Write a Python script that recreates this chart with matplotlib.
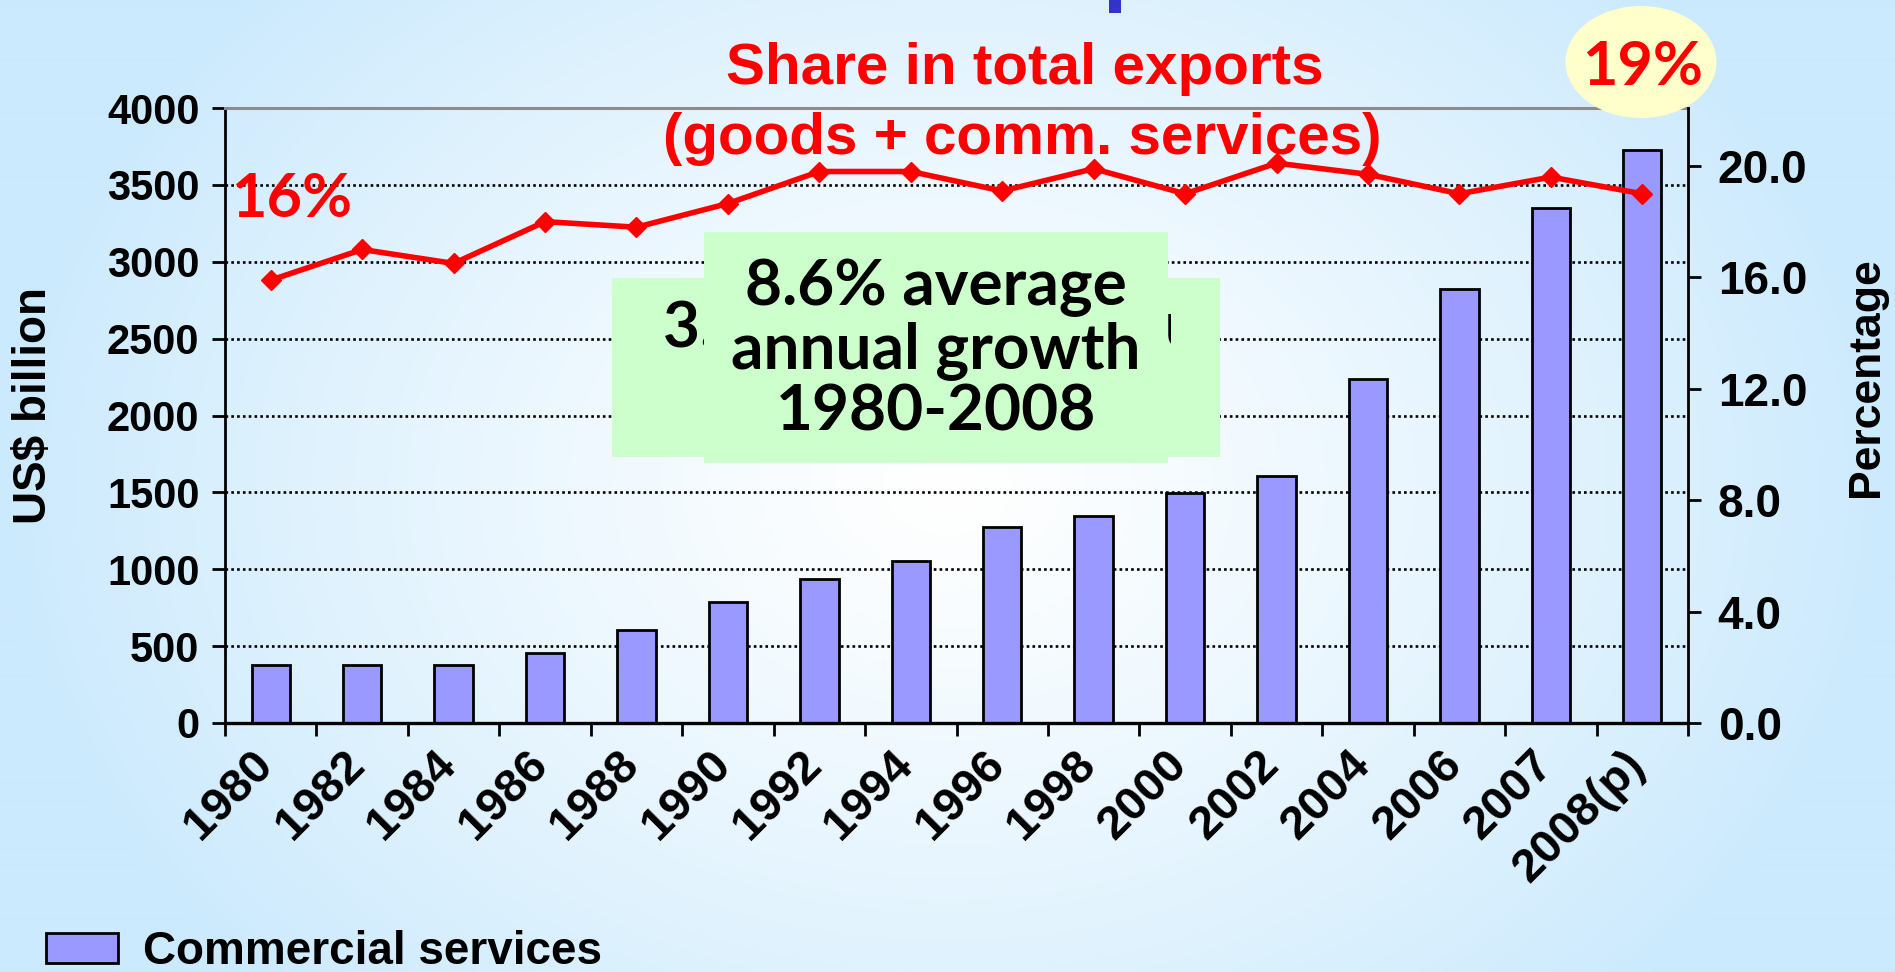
import numpy as np
import matplotlib
matplotlib.use("Agg")
import matplotlib.pyplot as plt
from matplotlib.patches import Rectangle, Ellipse
import matplotlib.transforms as mtransforms

# ---------------- data ----------------
years = ["1980", "1982", "1984", "1986", "1988", "1990", "1992", "1994",
         "1996", "1998", "2000", "2002", "2004", "2006", "2007", "2008(p)"]
services = [380, 380, 380, 455, 605, 785, 935, 1055,
            1275, 1345, 1495, 1605, 2235, 2820, 3350, 3725]
share = [15.9, 17.0, 16.5, 18.0, 17.8, 18.65, 19.8, 19.8,
         19.1, 19.9, 19.0, 20.1, 19.7, 19.0, 19.6, 19.0]
left_ticks = [0, 500, 1000, 1500, 2000, 2500, 3000, 3500, 4000]
right_ticks = [0, 4, 8, 12, 16, 20]

W, H = 1895, 972
plt.rcParams["font.family"] = ["Liberation Sans", "DejaVu Sans"]
plt.rcParams["font.weight"] = "bold"
plt.rcParams["axes.labelweight"] = "bold"

fig = plt.figure(figsize=(W / 100, H / 100), dpi=100)

def fx(px):
    return px / W

def fy(py):
    return 1 - py / H

# ---------------- background gradient ----------------
bg = fig.add_axes([0, 0, 1, 1], zorder=-10)
yy, xx = np.mgrid[0:H, 0:W]
dx = (xx - 947) / 947
dy = (yy - 486) / 486
t = np.clip(np.sqrt(dx ** 2 + 0.45 * dy ** 2), 0, 1) ** 1.2
blue = np.array([204, 234, 253]) / 255
img = 1 - t[..., None] * (1 - blue)
bg.imshow(img, aspect="auto", extent=[0, 1, 0, 1], origin="upper")
bg.axis("off")

# ---------------- main axes ----------------
L, R, T, B = 225, 1688, 108, 723
ax = fig.add_axes([fx(L), fy(B), (R - L) / W, (B - T) / H])
ax.set_facecolor("none")
x = np.arange(len(years))
ax.bar(x, services, width=0.42, color="#9999ff", edgecolor="black",
       linewidth=2.0, label="Commercial services", zorder=2)
ax.set_xlim(-0.5, len(years) - 0.5)
ax.set_ylim(0, 4000)
ax.set_yticks(left_ticks)
ax.set_yticklabels([str(v) for v in left_ticks])
ax.set_axisbelow(True)
ax.grid(axis="y", color="black", linestyle=(0, (1, 1.2)), linewidth=1.9)

ax.spines["right"].set_visible(False)
ax.spines["top"].set_color("#8c8c8c")
ax.spines["top"].set_linewidth(2.2)
ax.spines["left"].set_linewidth(2.0)
ax.spines["bottom"].set_linewidth(2.4)

ax.tick_params(axis="y", direction="out", length=9.4, width=2,
               labelsize=30, pad=9)
ax.set_xticks(x)
ax.set_xticklabels(years, rotation=45, ha="right", va="top",
                   rotation_mode="anchor")
ax.set_xticks(np.arange(-0.5, len(years), 1), minor=True)
ax.tick_params(axis="x", which="major", length=0, labelsize=34, pad=14)
ax.tick_params(axis="x", which="minor", length=9.4, width=2, direction="out")

ax.set_ylabel("US$ billion", fontsize=33, fontweight="bold", va="center")
ax.yaxis.set_label_coords((34 - L) / (R - L), (B - 405) / (B - T))

# ---------------- twin axis (share) ----------------
ax2 = ax.twinx()
ax2.set_ylim(0, 22.08)
ax2.plot(x, share, color="#ff0000", linewidth=4, marker="D",
         markersize=10.5, markeredgecolor="#ff0000", zorder=5)
ax2.set_yticks(right_ticks)
ax2.set_yticklabels([f"{v:.1f}" for v in right_ticks])
ax2.tick_params(axis="y", direction="out", length=9.4, width=2,
                labelsize=33, pad=12)
for s in ["top", "left", "bottom"]:
    ax2.spines[s].set_visible(False)
ax2.spines["right"].set_linewidth(2.0)
ax2.set_ylabel("Percentage", fontsize=32, fontweight="bold", va="center")
ax2.yaxis.set_label_coords((1867 - L) / (R - L), (B - 377) / (B - T))

# shift x tick labels slightly left
off = mtransforms.ScaledTranslation(-20 / 100, 0, fig.dpi_scale_trans)
for lab in ax.get_xticklabels():
    lab.set_transform(lab.get_transform() + off)

# ---------------- legend ----------------
fig.legend(loc="center left", bbox_to_anchor=(fx(46), fy(952)),
           frameon=False, fontsize=33, handlelength=1.57,
           handleheight=0.61, handletextpad=0.55, borderpad=0,
           borderaxespad=0)

# ---------------- annotations ----------------
geo = ["Lato", "DejaVu Sans"]
fig.text(fx(1025), fy(69), "Share in total exports", color="#ff0000",
         fontsize=42, ha="center", va="center")
fig.text(fx(1022), fy(139), "(goods + comm. services)", color="#ff0000",
         fontsize=42, ha="center", va="center")
fig.text(fx(292), fy(199), "16%", color="#ff0000", fontsize=44,
         ha="center", va="center", family=geo)

# ellipse with 19%
fig.patches.append(Ellipse((fx(1641), fy(62)), 151 / W, 112 / H,
                           transform=fig.transFigure, facecolor="#ffffcc",
                           edgecolor="none", zorder=2))
fig.text(fx(1643), fy(67), "19%", color="#ff0000", fontsize=44,
         ha="center", va="center", family=geo, zorder=4)

# small blue mark at top
fig.patches.append(Rectangle((fx(1109), fy(13)), 12 / W, 13 / H,
                             transform=fig.transFigure, facecolor="#3333cc",
                             edgecolor="none", zorder=2))

# green boxes
back = Rectangle((fx(612), fy(457)), (1220 - 612) / W, (457 - 278) / H,
                 transform=fig.transFigure, facecolor="#ccffcc",
                 edgecolor="none", zorder=2)
fig.patches.append(back)
clip = Rectangle((fx(612), fy(457)), (1171 - 612) / W, (457 - 278) / H,
                 transform=fig.transFigure, facecolor="none", edgecolor="none")
bt = fig.text(fx(663), fy(329), "3.5% average annual", color="black",
              fontsize=46, ha="left", va="center", family=geo, zorder=2.5)
bt.set_clip_path(clip)

front = Rectangle((fx(704), fy(463)), (1168 - 704) / W, (463 - 232) / H,
                  transform=fig.transFigure, facecolor="#ccffcc",
                  edgecolor="none", zorder=3)
fig.patches.append(front)
fig.text(fx(936), fy(350), "8.6% average\nannual growth\n1980-2008",
         color="black", fontsize=46, ha="center", va="center",
         family=geo, linespacing=1.08, zorder=4)

fig.savefig("out.png", dpi=100)
